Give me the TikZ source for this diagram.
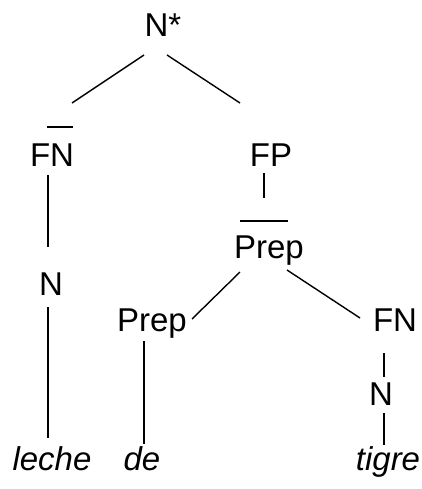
\documentclass[tikz,border=0pt]{standalone}
\usepackage{fontspec}
\setmainfont{Liberation Sans}
\usetikzlibrary{calc}
\begin{document}
\begin{tikzpicture}[x=1pt,y=-1pt,
  cat/.style={inner sep=0pt,anchor=base,font=\fontsize{33}{38}\selectfont},
  word/.style={cat,font=\fontsize{33}{38}\selectfont\itshape},
  branch/.style={line width=1.4pt},
  bar/.style={line width=1.4pt}]
\useasboundingbox (0,0) rectangle (422,489);
% categories
\node[cat] (root) at (163,37) {N*};
\node[cat] (fn) at (52,166) {FN};
\node[cat] (fp) at (271,166) {FP};
\node[cat] (prep) at (269,258) {Prep};
\node[cat] (n) at (51,295) {N};
\node[cat] (prepb) at (152,331) {Prep};
\node[cat] (fnb) at (395,331) {FN};
\node[cat] (nb) at (381,405) {N};
% words
\node[word] (leche) at (52,470) {leche};
\node[word] (de) at (142,470) {de};
\node[word] (tigre) at (388,470) {tigre};
% bars over FN and Prep
\draw[bar] ($(fn.base)+(-5,-39)$) -- ($(fn.base)+(21,-39)$);
\draw[bar] ($(prep.base)+(-29,-37)$) -- ($(prep.base)+(19,-37)$);
% branches
\draw[branch] ($(root.base)+(-19,18)$) -- ($(fn.base)+(20,-63)$);
\draw[branch] ($(root.base)+(4,18)$) -- ($(fp.base)+(-31,-63)$);
\draw[branch] ($(fn.base)+(-4,9)$) -- ($(n.base)+(-3,-48)$);
\draw[branch] ($(n.base)+(-3,12)$) -- ($(leche.base)+(-4,-32)$);
\draw[branch] ($(fp.base)+(-7,7)$) -- ($(prep.base)+(-5,-60)$);
\draw[branch] ($(prep.base)+(-29,14)$) -- ($(prepb.base)+(40,-12)$);
\draw[branch] ($(prep.base)+(18,12)$) -- ($(fnb.base)+(-35,-13)$);
\draw[branch] ($(prepb.base)+(-8,10)$) -- ($(de.base)+(2,-26)$);
\draw[branch] ($(fnb.base)+(-11,22)$) -- ($(nb.base)+(3,-28)$);
\draw[branch] ($(nb.base)+(3,8)$) -- ($(tigre.base)+(-4,-25)$);
\end{tikzpicture}
\end{document}
